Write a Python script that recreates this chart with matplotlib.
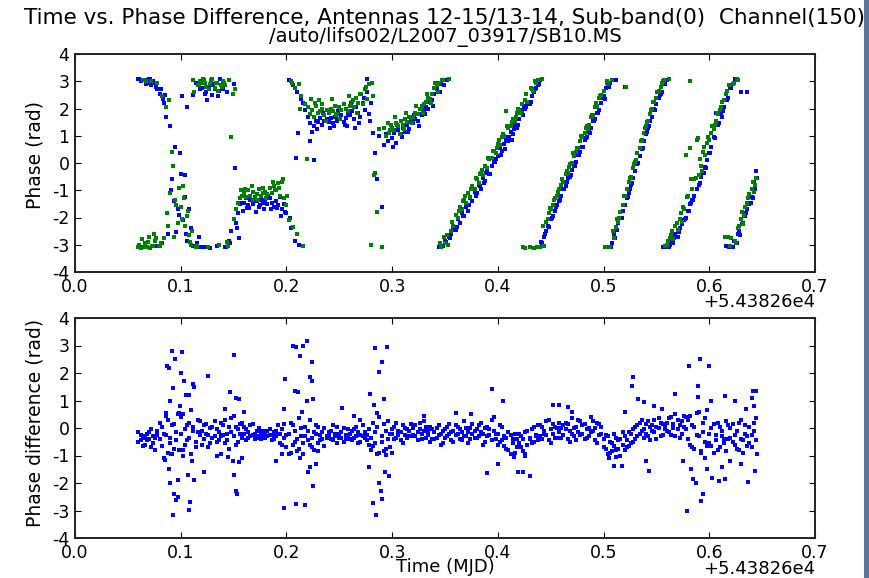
import numpy as np
import matplotlib
matplotlib.use('Agg')
import matplotlib.pyplot as plt
from matplotlib.patches import Rectangle

# ---------------------------------------------------------------------------
# Values (time is offset from MJD 54382.6)
# ---------------------------------------------------------------------------
time_mjd = [
    0.060, 0.062, 0.064, 0.066, 0.068, 0.070, 0.072, 0.074, 0.076, 0.078,
    0.080, 0.082, 0.084, 0.086, 0.088, 0.090, 0.092, 0.094, 0.096, 0.098,
    0.100, 0.102, 0.104, 0.106, 0.108, 0.110, 0.112, 0.114, 0.116, 0.118,
    0.120, 0.122, 0.124, 0.126, 0.128, 0.130, 0.132, 0.134, 0.136, 0.138,
    0.140, 0.142, 0.144, 0.146, 0.148, 0.150, 0.152, 0.154, 0.156, 0.158,
    0.160, 0.162, 0.164, 0.166, 0.168, 0.170, 0.172, 0.174, 0.176, 0.178,
    0.180, 0.182, 0.184, 0.186, 0.188, 0.190, 0.192, 0.194, 0.196, 0.198,
    0.200, 0.202, 0.204, 0.206, 0.208, 0.210, 0.212, 0.214, 0.216, 0.218,
    0.220, 0.222, 0.224, 0.226, 0.228, 0.230, 0.232, 0.234, 0.236, 0.238,
    0.240, 0.242, 0.244, 0.246, 0.248, 0.250, 0.252, 0.254, 0.256, 0.258,
    0.260, 0.262, 0.264, 0.266, 0.268, 0.270, 0.272, 0.274, 0.276, 0.278,
    0.280, 0.282, 0.284, 0.286, 0.288, 0.290, 0.292, 0.294, 0.296, 0.298,
    0.300, 0.302, 0.304, 0.306, 0.308, 0.310, 0.312, 0.314, 0.316, 0.318,
    0.320, 0.322, 0.324, 0.326, 0.328, 0.330, 0.332, 0.334, 0.336, 0.338,
    0.340, 0.342, 0.344, 0.346, 0.348, 0.350, 0.352, 0.354, 0.356, 0.358,
    0.360, 0.362, 0.364, 0.366, 0.368, 0.370, 0.372, 0.374, 0.376, 0.378,
    0.380, 0.382, 0.384, 0.386, 0.388, 0.390, 0.392, 0.394, 0.396, 0.398,
    0.400, 0.402, 0.404, 0.406, 0.408, 0.410, 0.412, 0.414, 0.416, 0.418,
    0.420, 0.422, 0.424, 0.426, 0.428, 0.430, 0.432, 0.434, 0.436, 0.438,
    0.440, 0.442, 0.444, 0.446, 0.448, 0.450, 0.452, 0.454, 0.456, 0.458,
    0.460, 0.462, 0.464, 0.466, 0.468, 0.470, 0.472, 0.474, 0.476, 0.478,
    0.480, 0.482, 0.484, 0.486, 0.488, 0.490, 0.492, 0.494, 0.496, 0.498,
    0.500, 0.502, 0.504, 0.506, 0.508, 0.510, 0.512, 0.514, 0.516, 0.518,
    0.520, 0.522, 0.524, 0.526, 0.528, 0.530, 0.532, 0.534, 0.536, 0.538,
    0.540, 0.542, 0.544, 0.546, 0.548, 0.550, 0.552, 0.554, 0.556, 0.558,
    0.560, 0.562, 0.564, 0.566, 0.568, 0.570, 0.572, 0.574, 0.576, 0.578,
    0.580, 0.582, 0.584, 0.586, 0.588, 0.590, 0.592, 0.594, 0.596, 0.598,
    0.600, 0.602, 0.604, 0.606, 0.608, 0.610, 0.612, 0.614, 0.616, 0.618,
    0.620, 0.622, 0.624, 0.626, 0.628, 0.630, 0.632, 0.634, 0.636, 0.638,
    0.640, 0.642, 0.644,
]

# phase of baseline 12-15 (blue) and 13-14 (green), rad
phase_blue = [
    3.08, 3.02, -3.10, 3.05, 2.95, 3.10, 2.85, 3.00, -3.05, 2.70,
    2.55, -2.95, 2.20, 1.70, -2.60, 1.35, -0.60, -1.40, -2.55, -1.90,
    -0.40, -2.10, -1.25, -2.85, -1.70, -2.40, -3.05, 2.95, -3.10, 2.70,
    2.75, -3.08, 2.60, 2.80, -3.12, 2.50, 2.70, -3.05, 2.65, 2.85,
    2.70, -3.10, 2.60, -2.85, -2.50, 2.90, -2.20, -1.85, -1.50, -1.45,
    -1.45, -1.30, -1.55, -1.35, -1.50, -1.25, -1.40, -1.60, -1.35, -1.45,
    -1.35, -1.50, -1.30, -1.45, -1.60, -1.40, -1.55, -1.25, -1.70, -1.50,
    -1.85, 3.05, -2.40, 2.85, -2.85, 2.60, -3.00, 2.35, 2.20, 1.95,
    1.70, 1.45, 1.15, 1.35, 1.55, 1.50, 1.65, 1.40, 1.55, 1.60,
    1.50, 1.65, 1.45, 1.70, 1.55, 1.60, 1.75, 1.50, 1.65, 1.80,
    1.75, 1.90, 1.60, 2.05, 1.85, 1.70, 2.20, 1.95, 2.60, 1.80,
    2.20, 1.10, 0.35, -0.60, 1.00, -1.60, 0.65, 1.05, 0.80, 1.20,
    0.90, 1.10, 0.75, 1.20, 1.05, 1.30, 1.15, 1.40, 1.25, 1.50,
    1.45, 1.60, 1.55, 1.80, 1.75, 1.95, 2.05, 2.00, 2.25, 2.30,
    2.55, 2.70, -3.10, 2.90, -3.05, -2.85, 3.05, -2.70, -2.60, -2.45,
    -2.45, -2.05, -2.20, -1.85, -1.95, -1.60, -1.75, -1.30, -1.40, -1.05,
    -1.10, -0.80, -0.95, -0.55, -0.65, -0.30, -0.40, -0.10, 0.05, 0.15,
    0.25, 0.55, 0.45, 0.70, 0.85, 0.80, 1.15, 1.05, 1.40, 1.30,
    1.60, 1.95, 1.75, 2.00, 2.20, 2.15, 2.45, 2.60, 2.75, 2.85,
    3.05, -2.95, -2.70, -2.50, -2.35, -2.05, -1.95, -1.75, -1.55, -1.40,
    -1.20, -0.95, -0.85, -0.55, -0.50, -0.25, -0.10, 0.05, 0.30, 0.40,
    0.60, 0.85, 0.95, 1.15, 1.30, 1.55, 1.60, 1.85, 1.95, 2.20,
    2.45, 2.75, -3.10, 2.95, -2.95, -2.60, 3.05, -2.20, -2.00, -1.75,
    -1.55, -1.30, -1.10, -0.80, -0.55, -0.30, -0.05, 0.25, 0.50, 0.80,
    1.05, 1.30, 1.55, 1.70, 2.00, 2.15, 2.40, 2.55, -3.10, 2.90,
    3.05, -3.10, -2.90, -2.95, -2.60, -2.70, -2.40, -2.25, -2.10, -2.00,
    -1.75, -1.50, -1.35, -1.20, -0.95, -0.80, -0.50, -0.35, -0.15, 0.10,
    0.35, 0.60, 0.95, 1.85, 1.40, 1.90, 1.70, 2.05, -3.05, 2.40,
    2.75, -3.10, 3.05, -2.95, -2.50, 2.60, -2.20, -1.95, -1.70, -1.50,
    -1.25, -0.70, -0.30,
]
phase_green = [
    -3.08, -3.12, 3.05, -2.95, -3.10, -2.70, 3.00, -3.05, -2.85, 2.95,
    -3.05, 2.45, -2.75, 2.05, -2.30, -1.10, 0.40, -2.70, -1.55, -0.90,
    -1.60, -0.85, -2.30, -1.95, -2.65, -3.00, 3.05, -3.10, 2.85, 3.00,
    2.95, 3.05, 2.80, -3.10, 2.90, 3.10, 2.75, 2.95, -3.00, 2.85,
    3.00, 2.85, -2.90, 3.05, 0.95, -2.05, -1.70, -1.45, -1.30, -1.20,
    -1.10, -1.25, -1.00, -1.20, -1.05, -1.30, -1.15, -0.95, -1.20, -1.10,
    -1.05, -1.15, -0.90, -1.10, -0.85, -1.00, -0.75, -1.20, -0.70, -1.30,
    -1.55, -2.10, 3.00, -2.35, 2.75, -2.60, 2.90, 2.45, -3.05, 2.15,
    2.05, 1.80, 1.95, 1.70, 2.10, 1.85, 1.90, 2.00, 1.75, 1.95,
    1.85, 2.00, 1.90, 2.10, 1.80, 2.05, 1.95, 2.15, 2.00, 1.90,
    2.10, 2.25, 2.05, 2.40, 2.20, 2.55, 2.15, 2.70, 2.35, 2.90,
    -3.00, 2.45, -0.35, -1.80, 1.25, -3.10, 1.30, 1.00, 1.45, 1.20,
    1.30, 1.20, 1.45, 1.35, 1.55, 1.40, 1.60, 1.50, 1.70, 1.65,
    1.70, 1.85, 1.80, 2.00, 2.10, 2.15, 2.25, 2.40, 2.35, 2.55,
    2.75, 2.85, 2.95, -3.08, 3.05, -2.95, -2.65, 3.10, -2.50, -2.30,
    -1.90, -2.00, -1.60, -1.70, -1.35, -1.45, -1.10, -1.25, -0.85, -0.95,
    -0.60, -0.75, -0.35, -0.45, -0.10, -0.20, 0.15, 0.20, 0.45, 0.35,
    0.70, 0.65, 0.95, 1.00, 1.90, 1.30, 1.35, 1.60, 1.55, 1.85,
    1.95, 1.85, -3.10, 2.30, 2.25, -3.08, 2.70, -3.12, 2.95, 3.05,
    -3.10, 3.08, -3.05, -2.15, -1.85, -1.70, -1.55, -1.30, -1.20, -0.95,
    -0.80, -0.70, -0.40, -0.35, -0.05, 0.00, 0.25, 0.40, 0.55, 0.80,
    0.95, 1.10, 1.35, 1.40, 1.70, 1.75, 2.05, 2.10, 2.40, 2.50,
    2.65, -3.10, 2.90, -3.08, 3.05, -2.75, -2.35, -2.15, -1.80, -1.55,
    -1.20, -0.95, -0.70, -0.50, -0.20, 0.05, 0.35, 0.55, 0.85, 1.10,
    1.35, 1.55, 1.80, 2.00, 2.25, 2.40, 2.65, 2.80, 3.00, -3.05,
    -3.00, 3.08, -2.65, -2.80, -2.30, -2.45, -2.05, -2.15, -1.70, 0.30,
    -1.20, 0.55, -0.95, -0.60, 0.85, -0.45, -0.10, 0.40, 0.30, 0.75,
    0.85, 1.10, 1.25, 1.55, 1.80, 1.95, 2.25, 2.30, 2.55, -2.70,
    -3.05, 2.90, -2.85, 3.08, -2.30, -2.05, -2.25, -1.60, -1.45, -1.15,
    -0.95, -1.05, -0.55,
]

# extra scattered samples of the two phases
extra_blue_t = [
    0.063, 0.067, 0.071, 0.075, 0.065, 0.073, 0.085, 0.101, 0.106, 0.112,
    0.095, 0.099, 0.104, 0.117, 0.125, 0.131, 0.137, 0.143, 0.151, 0.155,
    0.165, 0.175, 0.185, 0.195, 0.209, 0.211, 0.222, 0.226, 0.245, 0.255,
    0.265, 0.276, 0.351, 0.371, 0.389, 0.409, 0.413, 0.425, 0.447, 0.465,
    0.483, 0.499, 0.513, 0.520, 0.525, 0.541, 0.553, 0.565, 0.583, 0.597,
    0.611, 0.624, 0.636, 0.629, 0.641,
]
extra_blue_p = [
    3.05, 2.90, 3.10, 2.95, -3.10, -3.05, 2.50, 2.45, 2.05, 2.50,
    0.60, 0.35, -0.45, -2.70, 2.30, 2.90, 3.10, -3.10, -0.20, -2.75,
    -1.65, -1.55, -1.70, -1.95, 0.20, 1.10, 0.80, 0.10, 1.35, 1.40,
    1.30, 3.10, -2.90, -1.55, -0.35, 0.95, 0.83, 2.10, -2.30, -0.70,
    0.90, 2.40, -2.45, 2.80, -0.95, 1.15, 2.50, -2.90, -1.45, -0.20,
    1.85, 3.10, 2.60, -2.65, -1.30,
]
extra_green_t = [
    0.063, 0.067, 0.071, 0.075, 0.079, 0.089, 0.093, 0.097, 0.103, 0.109,
    0.113, 0.121, 0.127, 0.133, 0.139, 0.145, 0.149, 0.157, 0.168, 0.178,
    0.189, 0.197, 0.205, 0.213, 0.219, 0.227, 0.234, 0.247, 0.263, 0.271,
    0.283, 0.299, 0.311, 0.327, 0.343, 0.353, 0.369, 0.385, 0.401, 0.417,
    0.433, 0.426, 0.437, 0.449, 0.467, 0.485, 0.503, 0.501, 0.515, 0.521,
    0.531, 0.545, 0.557, 0.582, 0.563, 0.573, 0.589, 0.593, 0.605, 0.619,
    0.627, 0.615, 0.625, 0.633, 0.643,
]
extra_green_p = [
    -2.80, 3.00, -3.12, -2.60, -3.05, 2.30, -0.10, -2.20, -1.30, -2.90,
    2.60, 3.10, 2.70, 2.95, 2.80, -3.05, 2.55, -1.00, -1.35, -0.90,
    -1.00, -0.60, 2.95, 2.00, 0.15, 2.20, 2.15, 1.75, 2.30, 2.55,
    -0.45, 1.40, 1.25, 2.00, 2.60, -3.00, -1.20, -0.25, 0.85, 1.70,
    2.65, -3.12, -3.08, -1.65, -0.15, 1.25, 2.95, -3.10, -2.00, 2.80,
    0.10, 1.95, 3.05, 3.00, -2.75, -1.85, 0.90, -0.30, 1.40, 2.85,
    3.05, -2.70, -2.95, -1.90, -0.80,
]

# samples on the outer edges of each phase track (width of the tracks)
spread_blue_t = [
    0.061, 0.069, 0.077, 0.081, 0.083,
    0.091, 0.097, 0.105, 0.115, 0.119,
    0.123, 0.129, 0.135, 0.141, 0.147, 0.153,
    0.159, 0.163, 0.171, 0.179, 0.183, 0.191, 0.199, 0.203,
    0.229, 0.235, 0.241, 0.249, 0.257, 0.261, 0.269, 0.273, 0.279,
    0.301, 0.305, 0.309, 0.315, 0.321, 0.325, 0.331, 0.335, 0.339, 0.345, 0.349,
    0.347, 0.355, 0.361, 0.367, 0.373, 0.379, 0.383, 0.387, 0.393, 0.397,
    0.403, 0.407, 0.411, 0.415, 0.419, 0.423, 0.427, 0.431, 0.435, 0.439,
    0.441, 0.445, 0.451, 0.455, 0.459, 0.463, 0.469, 0.473, 0.477, 0.481,
    0.487, 0.491, 0.495, 0.501, 0.505,
    0.507, 0.511, 0.517, 0.523, 0.527, 0.533, 0.537, 0.543, 0.549, 0.555,
    0.559, 0.563, 0.567, 0.571, 0.577, 0.581, 0.585, 0.591, 0.595, 0.601,
    0.605, 0.609, 0.613, 0.617, 0.621, 0.626,
    0.619, 0.623, 0.627, 0.631, 0.635, 0.639, 0.643, 0.645,
]
spread_blue_p = [
    3.10, 3.00, 2.80, 2.70, 2.35,
    -1.00, -1.70, -2.60, -2.95, -3.10,
    2.55, 2.85, 2.45, 2.95, -2.95, -2.40,
    -1.75, -1.65, -1.80, -1.70, -1.20, -1.65, -1.80, -2.00,
    1.25, 1.85, 1.30, 1.90, 1.35, 2.20, 1.45, 2.40, 1.55,
    0.60, 1.40, 0.95, 1.15, 1.75, 1.35, 1.80, 2.35, 2.10, 2.60, 2.85,
    -3.05, -2.75, -2.35, -1.95, -1.55, -1.20, -0.85, -0.75, -0.40, 0.05,
    0.30, 0.50, 0.95, 1.25, 1.40, 1.85, 2.05, 2.25, 2.70, 2.90,
    -2.90, -2.60, -2.00, -1.60, -1.35, -0.95, -0.45, -0.10, 0.30, 0.60,
    1.10, 1.55, 1.85, 2.35, 2.80,
    -3.10, -2.75, -2.00, -1.25, -0.75, 0.00, 0.55, 1.35, 1.95, 2.60,
    -3.10, -3.00, -2.75, -2.55, -2.05, -1.75, -1.35, -0.75, -0.35, 0.35,
    0.90, 1.45, 1.90, 2.30, 2.75, 3.05,
    -3.10, -2.85, -2.60, -2.25, -1.85, -1.45, -0.95, -0.55,
]
spread_green_t = [
    0.061, 0.065, 0.069, 0.073, 0.077, 0.081,
    0.087, 0.095, 0.101, 0.107, 0.111, 0.115,
    0.117, 0.123, 0.129, 0.135, 0.141, 0.151,
    0.161, 0.167, 0.173, 0.181, 0.187, 0.193, 0.201,
    0.223, 0.231, 0.237, 0.243, 0.251, 0.259, 0.267, 0.275, 0.281,
    0.297, 0.303, 0.307, 0.313, 0.319, 0.323, 0.329, 0.333, 0.337, 0.341, 0.347,
    0.345, 0.349, 0.357, 0.363, 0.367, 0.375, 0.379, 0.383, 0.391, 0.395,
    0.399, 0.405, 0.409, 0.413, 0.419, 0.423, 0.427, 0.431, 0.435,
    0.443, 0.447, 0.453, 0.457, 0.461, 0.465, 0.471, 0.475, 0.479, 0.483,
    0.489, 0.493, 0.497, 0.503,
    0.509, 0.513, 0.519, 0.525, 0.529, 0.535, 0.539, 0.541, 0.547, 0.551, 0.555,
    0.561, 0.565, 0.569, 0.575, 0.579, 0.583, 0.587, 0.591, 0.595, 0.599,
    0.603, 0.607, 0.611, 0.617, 0.623,
    0.621, 0.627, 0.631, 0.637, 0.641,
]
spread_green_p = [
    -3.00, -3.10, -2.90, -3.05, -2.75, -2.95,
    -1.85, -1.35, -2.05, -1.75, -2.50, -3.05,
    2.85, 2.95, 3.05, 2.65, 2.90, 2.70,
    -0.95, -0.85, -1.35, -1.30, -0.70, -0.90, -1.20,
    2.35, 2.30, 1.55, 2.35, 1.60, 2.45, 1.85, 2.80, 2.95,
    1.10, 1.70, 1.05, 1.85, 1.45, 2.10, 1.85, 2.55, 2.20, 2.95, 3.05,
    -2.95, -2.70, -2.15, -1.75, -1.40, -0.95, -0.55, -0.40, 0.20, 0.45,
    0.55, 1.05, 1.35, 1.50, 2.00, 2.15, 2.55, 2.75, 3.00,
    -2.30, -2.05, -1.35, -1.05, -0.60, -0.30, 0.35, 0.55, 1.00, 1.30,
    1.75, 2.20, 2.45, 3.00,
    -2.50, -2.05, -1.20, -0.55, -0.05, 0.80, 1.30, 1.50, 2.25, 2.60, 2.95,
    -2.85, -2.50, -2.20, -1.60, -1.25, -0.60, -0.55, 0.15, 0.60, 0.95,
    1.35, 1.85, 2.05, 2.65, 2.95,
    -2.75, -2.40, -1.80, -1.30, -0.70,
]

# phase difference, two samples per time step, rad
diff_a = [
    -0.15, -0.45, -0.30, -0.60, -0.20, -0.40, -0.05, -0.55, -0.35, -0.10,
    0.20, -0.65, -0.20, 0.45, -0.90, -0.35, 0.10, -0.75, -0.15, 0.55,
    -0.20, 0.50, -0.60, 0.10, -0.35, 0.65, -0.10, -0.70, 0.30, -0.25,
    -0.10, -0.40, 0.15, -0.25, -0.55, 0.05, -0.30, -0.05, -0.45, 0.20,
    -0.25, 0.30, -0.45, 0.05, -0.15, 0.45, -0.60, -0.05, 0.15, -0.35,
    -0.20, -0.05, -0.35, 0.10, -0.25, -0.40, -0.10, -0.30, -0.15, -0.25,
    -0.15, -0.30, -0.05, -0.25, -0.40, -0.10, -0.20, -0.55, -0.05, -0.35,
    -0.70, -0.20, -0.90, 0.10, -0.50, -0.85, 0.35, -0.30, -0.95, 0.05,
    -0.45, 0.30, -0.70, -0.15, 0.10, -0.55, -0.25, -0.40, 0.00, -0.30,
    -0.30, -0.10, -0.45, -0.20, 0.05, -0.35, -0.15, -0.50, -0.25, -0.05,
    -0.20, -0.45, -0.05, -0.30, -0.15, -0.50, 0.10, -0.35, -0.25, -0.60,
    -0.80, 0.20, -0.55, -0.95, 0.40, -0.30, -0.85, -0.10, 0.25, -0.70,
    -0.20, 0.05, -0.35, -0.10, -0.45, 0.10, -0.25, -0.05, -0.30, 0.15,
    0.00, -0.30, -0.15, 0.20, -0.40, -0.10, 0.05, -0.25, -0.50, -0.05,
    -0.15, -0.35, 0.10, -0.20, -0.55, -0.05, -0.30, 0.15, -0.45, -0.10,
    -0.25, 0.05, -0.40, -0.15, 0.25, -0.30, -0.55, 0.00, -0.20, -0.35,
    -0.05, -0.30, 0.20, -0.20, -0.50, 0.05, -0.25, 0.30, -0.10, -0.40,
    -0.20, -0.50, 0.05, -0.65, -0.35, -0.80, -0.25, -0.55, -0.90, -0.40,
    -0.55, -0.30, -0.85, -0.15, -0.60, -0.40, -0.05, -0.50, -0.25, 0.10,
    -0.30, 0.05, -0.20, 0.25, -0.45, -0.05, 0.15, -0.35, 0.00, -0.15,
    0.00, -0.25, 0.20, -0.40, -0.10, 0.35, -0.30, 0.05, -0.15, 0.25,
    -0.20, 0.15, -0.35, 0.00, 0.40, -0.10, -0.45, 0.20, -0.25, 0.05,
    -0.40, -0.75, -0.30, -0.90, -0.55, -0.20, -0.80, -0.45, -1.00, -0.60,
    -0.80, -0.45, -0.65, -0.20, -0.50, 0.05, -0.30, 0.20, -0.10, -0.35,
    0.15, -0.30, 0.05, -0.10, 0.30, -0.40, 0.00, 0.20, -0.25, 0.10,
    0.20, -0.15, 0.40, 0.00, -0.30, 0.30, 0.10, -0.20, 0.45, -0.05,
    0.30, -0.60, 0.10, -0.75, 0.55, -0.30, -0.85, 0.20, -0.50, 0.65,
    -0.20, -0.65, 0.15, -0.45, -0.80, 0.05, -0.30, -0.55, 0.25, -0.40,
    -0.35, 0.15, -0.60, -0.10, -0.80, 0.30, -0.45, -0.20, -0.65, 0.05,
    -0.25, 0.20, -0.45,
]
diff_b = [
    -0.50, -0.25, -0.65, -0.35, -0.45, -0.15, -0.70, -0.30, -0.80, -0.25,
    -0.40, 0.05, -1.10, -0.25, 0.30, -0.55, -0.95, 0.15, -0.45, -0.80,
    0.40, -0.80, -0.05, -0.45, 0.20, -0.95, 0.05, -0.50, -0.15, 0.25,
    -0.60, 0.10, -0.20, -0.70, 0.00, -0.35, 0.25, -0.50, -0.15, -0.30,
    0.10, -0.55, -0.20, -0.75, 0.35, -0.30, 0.05, -0.50, -0.20, 0.20,
    0.05, -0.45, -0.15, -0.30, 0.15, -0.20, -0.35, 0.00, -0.40, -0.10,
    -0.35, -0.10, -0.25, -0.45, -0.15, -0.30, 0.10, -0.20, -0.60, 0.15,
    -0.25, -0.95, 0.20, -0.60, -0.10, -0.40, -0.75, 0.00, -0.55, -0.30,
    -0.10, -0.60, -0.35, -0.80, -0.20, 0.05, -0.45, -0.15, -0.65, -0.35,
    -0.15, -0.40, 0.10, -0.30, -0.55, -0.20, -0.35, 0.00, -0.40, -0.25,
    -0.40, -0.10, -0.35, 0.05, -0.55, -0.25, -0.30, -0.15, -0.45, -0.05,
    -0.35, -0.65, -0.15, 0.05, -0.90, -0.50, 0.15, -0.75, -0.40, -0.20,
    -0.05, -0.40, 0.20, -0.25, -0.15, -0.55, 0.00, -0.35, -0.10, -0.30,
    -0.25, 0.10, -0.45, -0.05, -0.20, 0.25, -0.35, -0.10, 0.05, -0.40,
    -0.40, 0.00, -0.25, -0.60, -0.10, -0.35, 0.05, -0.20, -0.15, -0.50,
    0.10, -0.20, -0.05, -0.45, -0.30, 0.00, -0.15, -0.40, 0.15, -0.10,
    -0.35, 0.10, -0.15, -0.60, 0.00, -0.30, -0.05, -0.45, 0.40, -0.20,
    -0.60, 0.10, -0.45, -0.30, -0.75, -0.15, -0.95, -0.40, -0.20, -0.70,
    -0.20, -0.70, -0.40, -0.95, -0.10, -0.35, -0.55, 0.05, -0.30, -0.45,
    0.10, -0.40, -0.10, -0.25, 0.30, -0.55, -0.20, 0.05, -0.35, 0.20,
    -0.35, 0.10, -0.05, 0.15, -0.50, -0.20, 0.00, -0.45, 0.30, -0.25,
    0.10, -0.40, -0.05, -0.30, -0.15, 0.25, 0.00, -0.55, 0.15, -0.20,
    -0.70, -0.25, -0.95, -0.50, -0.85, -0.65, -0.35, -0.75, -0.40, -0.15,
    -0.30, -0.70, -0.15, -0.55, -0.05, -0.40, 0.10, -0.20, 0.30, -0.05,
    -0.20, 0.25, -0.45, 0.10, -0.15, 0.05, 0.35, -0.30, 0.15, -0.05,
    -0.10, 0.35, -0.25, 0.15, 0.50, -0.05, -0.35, 0.25, 0.05, 0.40,
    -0.40, 0.45, -0.70, 0.05, -0.25, 0.60, -0.90, -0.15, 0.35, -0.65,
    -0.55, 0.00, -0.90, -0.25, 0.20, -0.70, -0.10, -0.40, -0.85, 0.10,
    0.00, -0.50, -0.25, -0.75, 0.20, -0.40, -0.90, 0.10, -0.30, -0.55,
    -0.70, -0.10, 0.35,
]

# isolated large phase-difference excursions
outlier_t = [
    0.092, 0.101, 0.095, 0.089, 0.087, 0.100, 0.103, 0.105, 0.108, 0.112,
    0.113, 0.090, 0.097, 0.093, 0.086, 0.099,
    0.090, 0.094, 0.096, 0.093, 0.097, 0.097, 0.108, 0.109, 0.113, 0.107,
    0.111, 0.089, 0.085, 0.102, 0.091,
    0.126, 0.150, 0.147, 0.152, 0.155, 0.142, 0.122, 0.134, 0.138, 0.150,
    0.152, 0.153, 0.149, 0.155, 0.145, 0.160, 0.158,
    0.206, 0.209, 0.2195, 0.216, 0.213, 0.224, 0.199, 0.222, 0.224, 0.208,
    0.211, 0.219, 0.215, 0.198, 0.225,
    0.198, 0.209, 0.2175, 0.220, 0.225, 0.222, 0.190, 0.196, 0.213, 0.228,
    0.230,
    0.253, 0.264, 0.270,
    0.284, 0.295, 0.290, 0.288, 0.279, 0.292, 0.283, 0.286, 0.2845, 0.282,
    0.290, 0.288, 0.289, 0.293, 0.278, 0.297, 0.294, 0.300,
    0.394, 0.405, 0.390, 0.400, 0.360, 0.330, 0.375,
    0.419, 0.424, 0.430, 0.415, 0.426,
    0.452, 0.458, 0.466, 0.470,
    0.510, 0.517, 0.527, 0.528, 0.512, 0.505, 0.520,
    0.533, 0.538, 0.540, 0.543, 0.548, 0.555,
    0.581, 0.591, 0.600, 0.589, 0.589, 0.568, 0.602, 0.579, 0.592, 0.594,
    0.585, 0.587, 0.583, 0.598, 0.603, 0.575, 0.596,
    0.615, 0.624, 0.641, 0.644, 0.640, 0.642, 0.637, 0.609, 0.615, 0.643,
    0.645, 0.630, 0.620, 0.612, 0.635,
]
outlier_v = [
    2.80, 2.75, 2.50, 2.20, 2.25, 2.00, 1.70, 1.20, 1.20, 1.60,
    1.50, 1.00, 0.50, 1.45, 0.55, 0.80,
    -2.00, -2.40, -2.60, -3.15, -2.50, -1.90, -2.98, -2.70, -1.90, -1.70,
    -1.20, -1.50, -1.15, -1.00, -0.95,
    1.90, 2.65, 1.30, 1.10, 1.05, 0.70, -1.60, -1.00, -0.95, -1.70,
    -2.30, -2.40, -1.20, -1.25, -1.05, 0.60, -1.10,
    3.00, 2.95, 3.15, 3.00, 2.62, 2.40, 1.80, 1.85, 1.70, 1.35,
    1.30, 1.00, 0.60, 0.70, 1.05,
    -2.90, -2.75, -2.80, -1.60, -2.10, -1.40, -1.20, -0.95, -1.10, -1.30,
    -0.85,
    0.72, 0.45, 0.30,
    2.90, 2.93, 2.41, 2.05, 1.24, 1.05, 0.82, 0.55, -3.16, -2.73,
    -2.58, -2.00, -2.30, -1.59, -1.40, -1.75, -0.97, -0.90,
    1.42, 0.98, -1.65, -1.30, 0.55, 0.45, 0.50,
    -1.60, -1.60, -1.73, -1.05, -1.00,
    0.82, 0.82, 0.75, 0.60,
    -1.37, -1.37, 1.54, 1.84, -1.05, -1.10, 0.60,
    1.05, 0.95, -1.20, -1.55, 0.80, 0.70,
    2.27, 2.50, 2.27, 1.53, 1.14, 1.24, 1.00, -3.00, -2.64, -2.40,
    -1.85, -2.00, -1.50, -1.50, -1.80, -1.20, -1.10,
    1.15, 0.98, 1.35, 1.35, 1.10, 0.80, -1.95, -1.91, -1.85, -1.55,
    -0.93, -1.30, -1.20, -1.40, 0.70,
]

x_ticks = [0.0, 0.1, 0.2, 0.3, 0.4, 0.5, 0.6, 0.7]
x_tick_labels = ['0.0', '0.1', '0.2', '0.3', '0.4', '0.5', '0.6', '0.7']
y_ticks = [-4, -3, -2, -1, 0, 1, 2, 3, 4]
y_tick_labels = ['-4', '-3', '-2', '-1', '0', '1', '2', '3', '4']

title_line1 = 'Time vs. Phase Difference, Antennas 12-15/13-14, Sub-band(0)  Channel(150)'
title_line2 = '/auto/lifs002/L2007_03917/SB10.MS'
offset_label = '+5.43826e4'

BLUE = '#0000ff'
GREEN = '#008000'
W, H = 870, 578


def style_axes(ax):
    ax.set_xlim(0, 0.7)
    ax.set_ylim(-4, 4)
    ax.set_xticks(x_ticks)
    ax.set_xticklabels(x_tick_labels)
    ax.set_yticks(y_ticks)
    ax.set_yticklabels(y_tick_labels)
    ax.tick_params(direction='in', top=True, right=True, length=4, width=0.8,
                   labelsize=12.5, pad=4, colors='black')
    for sp in ax.spines.values():
        sp.set_linewidth(1.4)
        sp.set_color('#222222')
    ax.text(1.0, -0.098, offset_label, transform=ax.transAxes,
            ha='right', va='top', fontsize=13)


fig = plt.figure(figsize=(W / 100, H / 100), dpi=100)
ax1 = fig.add_axes([75 / W, 1 - 272 / H, 740 / W, 218 / H])
ax2 = fig.add_axes([75 / W, 1 - 538 / H, 740 / W, 220 / H])

mk = dict(linestyle='none', marker='s', markersize=2.4, markeredgewidth=0)

ax1.plot(time_mjd, phase_blue, color=BLUE, **mk)
ax1.plot(extra_blue_t, extra_blue_p, color=BLUE, **mk)
ax1.plot(spread_blue_t, spread_blue_p, color=BLUE, **mk)
ax1.plot(time_mjd, phase_green, color=GREEN, **mk)
ax1.plot(extra_green_t, extra_green_p, color=GREEN, **mk)
ax1.plot(spread_green_t, spread_green_p, color=GREEN, **mk)
style_axes(ax1)

ax2.plot(time_mjd, diff_a, color=BLUE, **mk)
ax2.plot(time_mjd, diff_b, color=BLUE, **mk)
ax2.plot(outlier_t, outlier_v, color=BLUE, **mk)
style_axes(ax2)

# labels placed where they sit in the reference
fig.text(445 / W, 1 - 24 / H, title_line1, ha='center', va='baseline', fontsize=15.5)
fig.text(445 / W, 1 - 42 / H, title_line2, ha='center', va='baseline', fontsize=14)
fig.text(35 / W, 1 - 155 / H, 'Phase (rad)', rotation=90, ha='center', va='center', fontsize=13.5)
fig.text(35 / W, 1 - 423 / H, 'Phase difference (rad)', rotation=90, ha='center', va='center', fontsize=13.5)
fig.text(445 / W, 1 - 558 / H, 'Time (MJD)', ha='center', va='top', fontsize=13)

# window border strip at the right edge
fig.patches.append(Rectangle((864 / W, 0), 6 / W, 1, transform=fig.transFigure,
                             facecolor='#5b7499', edgecolor='none', zorder=10))

fig.savefig('out.png', dpi=100)
